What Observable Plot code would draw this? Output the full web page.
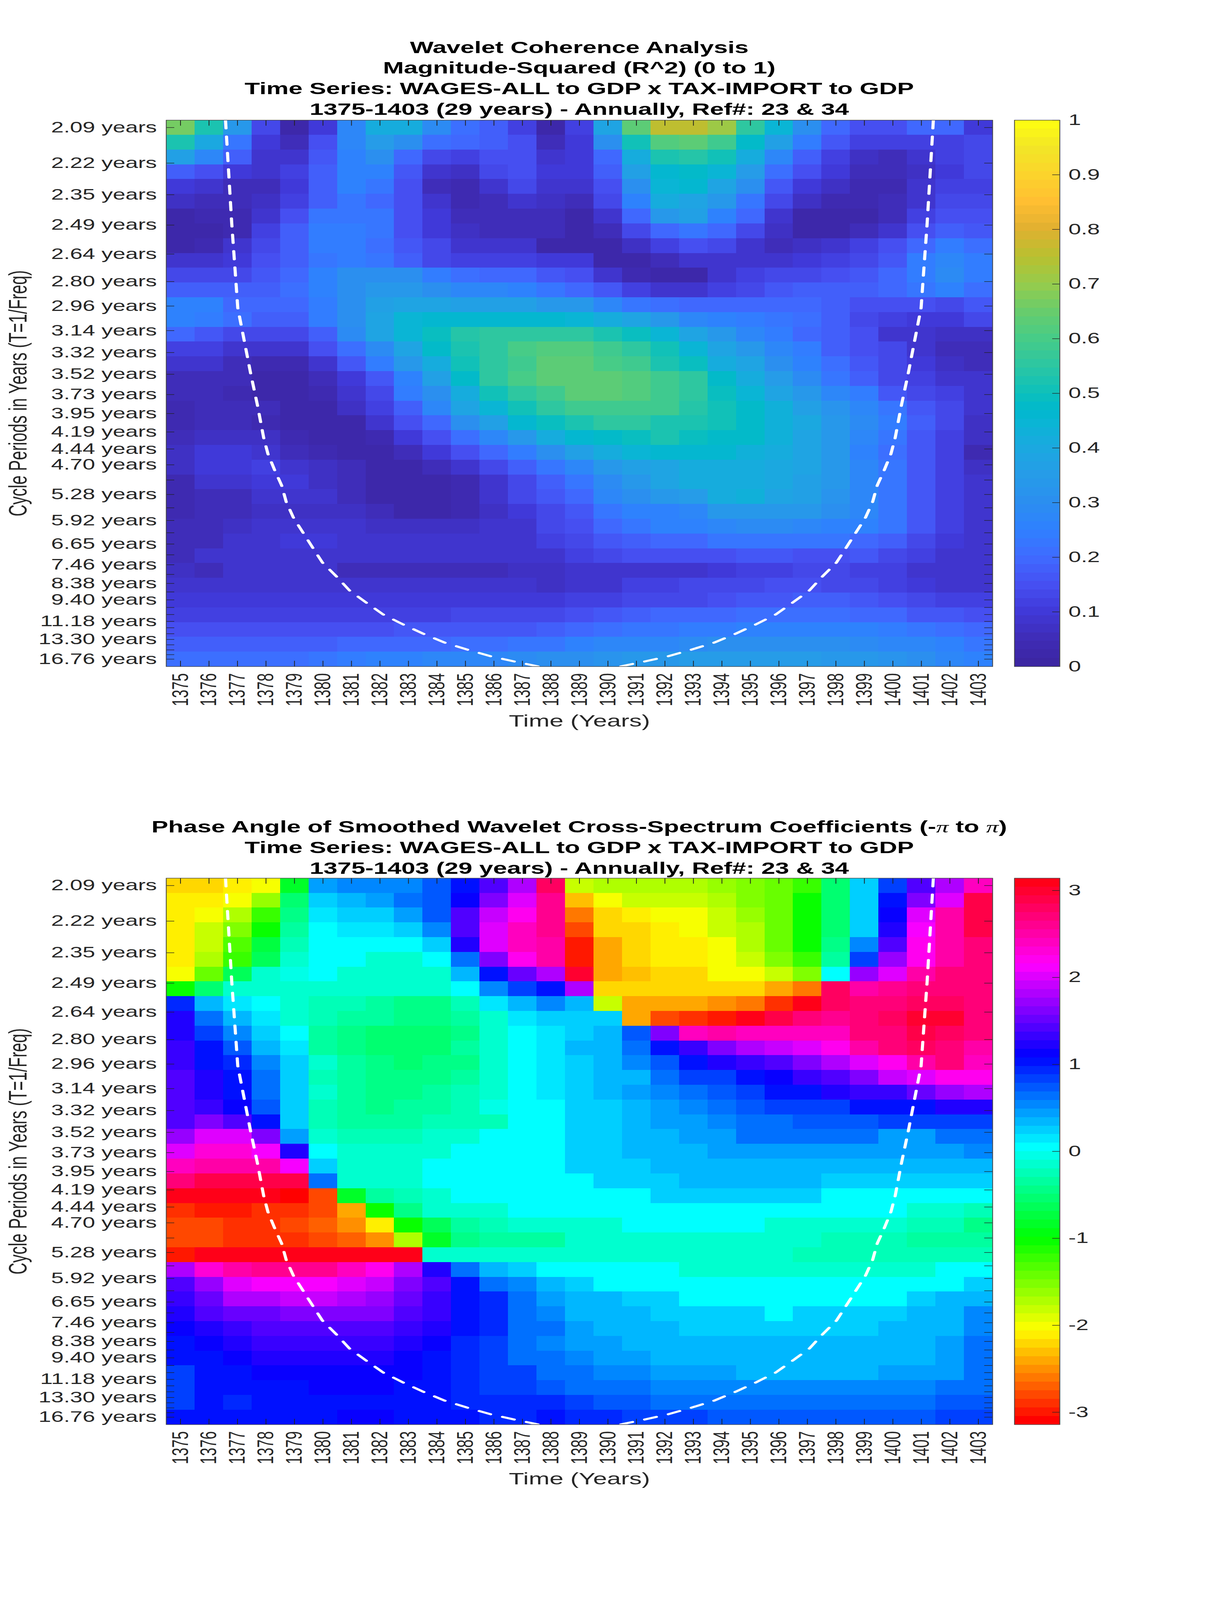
<!DOCTYPE html>
<html>
<head>
<meta charset="utf-8">
<title>Wavelet Coherence Analysis</title>
<script src="https://cdn.jsdelivr.net/npm/d3@7"></script>
<script src="https://cdn.jsdelivr.net/npm/@observablehq/plot@0.6"></script>
<style>
html,body{margin:0;padding:0;background:#fff;}
#page{position:absolute;left:0;top:0;width:3125px;height:6252px;overflow:hidden;background:#fff;font-family:"Liberation Sans",Arial,sans-serif;transform-origin:0 0;}
.ttl{position:absolute;left:0;width:2965px;text-align:center;font-weight:bold;font-size:64px;line-height:80.6px;color:#000;white-space:nowrap;}
.ttl i{font-family:"Liberation Serif",serif;font-weight:normal;}
</style>
</head>
<body>
<div id="page"></div>
<script>
const years = d3.range(1375, 1404);
const periods = [2.09,2.22,2.35,2.49,2.64,2.80,2.96,3.14,3.32,3.52,3.73,3.95,4.19,4.44,4.70,4.98,5.28,5.59,5.92,6.28,6.65,7.05,7.46,7.91,8.38,8.88,9.40,9.96,10.55,11.18,11.85,12.55,13.30,14.09,14.93,15.82,16.76];
const labelledPeriods = [2.09,2.22,2.35,2.49,2.64,2.80,2.96,3.14,3.32,3.52,3.73,3.95,4.19,4.44,4.70,5.28,5.92,6.65,7.46,8.38,9.40,11.18,13.30,16.76];

const coherence = [
[.67,.53,.33,.13,.03,.10,.27,.42,.42,.29,.21,.18,.11,.03,.11,.39,.64,.76,.76,.71,.56,.45,.30,.20,.15,.15,.20,.20,.10],
[.53,.40,.23,.10,.05,.15,.27,.35,.30,.21,.19,.18,.15,.05,.10,.30,.51,.62,.64,.58,.48,.36,.24,.16,.11,.11,.12,.12,.13],
[.37,.27,.18,.09,.08,.16,.26,.30,.20,.13,.11,.15,.15,.09,.10,.20,.41,.52,.54,.50,.41,.28,.18,.12,.07,.05,.08,.11,.14],
[.18,.15,.10,.09,.11,.18,.25,.25,.16,.09,.07,.13,.15,.10,.10,.18,.36,.46,.48,.44,.35,.21,.15,.10,.06,.06,.07,.10,.13],
[.10,.09,.06,.06,.10,.18,.25,.23,.15,.06,.04,.09,.14,.08,.09,.15,.31,.44,.46,.38,.31,.17,.10,.07,.04,.04,.08,.11,.11],
[.07,.05,.05,.07,.11,.18,.23,.20,.15,.09,.04,.05,.09,.07,.06,.13,.25,.41,.39,.34,.23,.13,.07,.04,.04,.05,.09,.13,.13],
[.02,.04,.04,.08,.15,.23,.23,.23,.15,.10,.05,.06,.06,.05,.02,.09,.20,.34,.36,.26,.20,.09,.03,.02,.02,.06,.11,.15,.15],
[.02,.02,.04,.11,.18,.24,.24,.23,.15,.10,.07,.05,.05,.05,.03,.06,.13,.20,.22,.20,.13,.07,.02,.02,.05,.09,.15,.18,.16],
[.02,.04,.08,.13,.18,.24,.24,.21,.16,.13,.09,.09,.09,.03,.03,.02,.07,.12,.15,.14,.09,.05,.07,.09,.11,.15,.20,.24,.21],
[.08,.08,.10,.15,.18,.23,.24,.22,.18,.14,.12,.11,.11,.10,.10,.03,.03,.05,.08,.09,.09,.09,.10,.11,.13,.16,.24,.28,.24],
[.13,.13,.14,.16,.20,.26,.31,.31,.31,.24,.21,.20,.20,.17,.15,.08,.04,.02,.03,.09,.11,.14,.14,.15,.17,.20,.24,.29,.24],
[.18,.18,.18,.18,.21,.26,.30,.33,.33,.30,.28,.27,.26,.23,.20,.17,.12,.09,.09,.11,.13,.17,.18,.18,.18,.19,.22,.26,.21],
[.25,.25,.20,.20,.20,.24,.30,.36,.39,.39,.36,.36,.36,.34,.33,.27,.23,.21,.19,.19,.20,.20,.20,.18,.15,.15,.15,.14,.16],
[.25,.24,.21,.18,.18,.24,.31,.38,.45,.46,.46,.46,.46,.46,.45,.41,.38,.33,.28,.26,.24,.23,.21,.18,.14,.12,.10,.10,.13],
[.19,.17,.14,.13,.14,.18,.29,.39,.45,.49,.54,.55,.55,.55,.55,.52,.49,.44,.38,.34,.27,.24,.20,.18,.15,.08,.08,.07,.07],
[.12,.12,.09,.08,.09,.15,.21,.29,.39,.47,.52,.56,.60,.61,.61,.58,.55,.50,.45,.39,.34,.27,.24,.18,.15,.13,.09,.05,.05],
[.09,.08,.05,.04,.04,.09,.16,.24,.34,.42,.50,.55,.59,.63,.63,.60,.58,.53,.49,.42,.39,.31,.25,.21,.16,.13,.10,.07,.05],
[.06,.05,.05,.03,.03,.05,.10,.16,.25,.36,.47,.55,.60,.63,.64,.64,.61,.59,.55,.48,.41,.35,.29,.23,.18,.14,.12,.09,.08],
[.05,.05,.04,.02,.02,.04,.09,.14,.24,.31,.42,.50,.55,.59,.64,.64,.61,.58,.55,.49,.45,.39,.33,.28,.24,.16,.14,.12,.08],
[.04,.05,.05,.05,.02,.03,.07,.11,.18,.28,.38,.45,.51,.56,.59,.59,.59,.58,.54,.51,.47,.43,.37,.32,.27,.23,.17,.14,.09],
[.04,.05,.05,.04,.02,.02,.02,.08,.15,.19,.31,.37,.46,.49,.53,.56,.56,.53,.53,.51,.47,.43,.40,.33,.29,.24,.18,.14,.07],
[.06,.07,.07,.07,.04,.02,.02,.04,.10,.15,.21,.27,.33,.42,.46,.48,.49,.52,.49,.48,.47,.43,.38,.33,.28,.23,.17,.12,.07],
[.07,.10,.10,.08,.06,.04,.02,.03,.06,.10,.15,.20,.24,.30,.36,.41,.45,.46,.46,.46,.43,.41,.38,.33,.26,.21,.16,.12,.04],
[.07,.10,.10,.11,.09,.07,.05,.03,.03,.06,.08,.14,.18,.22,.28,.33,.37,.39,.41,.41,.41,.40,.38,.33,.27,.22,.16,.11,.07],
[.04,.08,.09,.10,.10,.07,.06,.03,.02,.02,.04,.09,.14,.18,.23,.29,.33,.39,.41,.42,.42,.40,.37,.33,.28,.23,.17,.11,.08],
[.04,.05,.06,.08,.08,.08,.05,.03,.02,.02,.04,.09,.13,.16,.20,.27,.31,.34,.35,.41,.43,.39,.36,.32,.28,.23,.17,.11,.08],
[.04,.05,.06,.07,.07,.07,.07,.06,.03,.03,.04,.07,.10,.13,.17,.23,.26,.26,.28,.33,.34,.34,.34,.31,.28,.23,.17,.11,.08],
[.06,.05,.07,.08,.08,.08,.08,.07,.07,.07,.07,.08,.09,.14,.15,.20,.22,.25,.25,.28,.29,.29,.27,.26,.25,.22,.16,.11,.08],
[.06,.06,.08,.08,.10,.10,.08,.08,.08,.08,.08,.08,.09,.11,.13,.17,.18,.19,.20,.22,.22,.23,.23,.22,.20,.18,.14,.10,.08],
[.06,.08,.08,.08,.08,.08,.08,.08,.08,.08,.08,.08,.08,.08,.12,.13,.15,.15,.15,.15,.17,.17,.15,.15,.16,.13,.11,.09,.08],
[.07,.05,.08,.08,.08,.08,.06,.06,.06,.06,.06,.06,.07,.07,.09,.09,.08,.08,.09,.10,.11,.11,.13,.13,.12,.11,.09,.08,.08],
[.08,.08,.08,.08,.08,.08,.08,.08,.08,.08,.08,.08,.08,.07,.08,.09,.12,.12,.13,.14,.14,.15,.15,.14,.13,.11,.10,.08,.08],
[.10,.10,.10,.10,.10,.10,.10,.10,.10,.10,.10,.10,.10,.10,.11,.12,.13,.13,.14,.15,.16,.17,.18,.18,.17,.15,.13,.12,.11],
[.12,.12,.11,.11,.11,.11,.12,.12,.12,.12,.13,.13,.13,.13,.15,.16,.18,.19,.20,.20,.21,.21,.21,.21,.20,.19,.17,.16,.15],
[.15,.15,.15,.15,.15,.15,.15,.15,.16,.16,.17,.17,.17,.18,.20,.21,.22,.23,.24,.24,.25,.26,.26,.26,.25,.24,.23,.21,.20],
[.18,.18,.18,.18,.18,.18,.19,.19,.20,.20,.21,.21,.23,.23,.26,.27,.28,.28,.29,.30,.30,.30,.30,.30,.29,.28,.27,.25,.22],
[.21,.21,.21,.21,.21,.23,.24,.25,.26,.27,.27,.28,.29,.30,.31,.32,.33,.34,.35,.35,.35,.35,.35,.34,.33,.32,.30,.28,.26]
];

const phaseAngle = [
[-2.19,-2.19,-2.12,-1.97,-.88,.47,.55,.55,.55,.70,1.05,1.38,1.78,2.82,-1.85,-1.75,-1.73,-1.73,-1.73,-1.65,-1.50,-1.38,-1.25,-.50,.20,.85,1.38,1.78,2.36],
[-2.09,-2.09,-1.97,-1.65,-.50,.27,.36,.47,.60,.72,1.15,1.65,1.97,2.62,-2.28,-1.97,-1.83,-1.83,-1.83,-1.75,-1.57,-1.38,-1.05,-.50,.20,1.05,1.65,2.00,2.85],
[-2.09,-1.97,-1.75,-1.25,-.45,.12,.24,.24,.44,.72,1.38,1.88,2.16,2.62,-2.65,-2.16,-2.09,-1.97,-1.97,-1.85,-1.65,-1.45,-1.05,-.50,.20,1.15,1.97,2.55,2.88],
[-2.09,-1.85,-1.50,-1.05,-.33,0,.12,.12,.27,.55,1.38,2.00,2.40,2.62,-2.81,-2.25,-2.16,-2.09,-1.97,-1.85,-1.75,-1.45,-1.05,-.50,.20,1.25,2.09,2.55,2.88],
[-2.09,-1.85,-1.30,-.70,-.25,0,0,0,0,.20,1.19,2.00,2.36,2.55,-3.00,-2.38,-2.16,-2.09,-2.09,-1.97,-1.72,-1.45,-1.05,-.45,.50,1.38,2.16,2.55,2.74],
[-2.09,-1.75,-1.19,-.59,-.12,0,0,-.10,-.10,0,.68,1.65,2.16,2.48,-3.00,-2.38,-2.16,-2.09,-2.09,-1.97,-1.83,-1.57,-1.19,-.33,.85,1.71,2.20,2.55,2.68],
[-1.97,-1.38,-.65,-.19,-.07,0,-.10,-.10,-.10,-.10,.32,1.05,1.50,1.83,3.02,-2.38,-2.28,-2.16,-2.16,-2.05,-1.97,-1.85,-1.57,0,1.71,2.05,2.55,2.68,2.68],
[-1.05,-.50,-.19,-.12,-.12,-.12,-.12,-.19,-.19,-.19,0,.55,.85,1.05,1.78,-2.25,-2.25,-2.25,-2.25,-2.25,-2.25,-2.36,-2.65,2.82,2.55,2.62,2.68,2.68,2.68],
[.98,.30,.12,0,-.12,-.25,-.25,-.30,-.42,-.42,-.25,.12,.30,.50,.30,-1.85,-2.36,-2.44,-2.44,-2.55,-2.65,-2.92,3.05,2.82,2.68,2.68,2.82,2.82,2.68],
[1.19,.63,.32,.10,-.12,-.25,-.38,-.38,-.48,-.48,-.30,-.12,.12,.20,.20,.20,-2.44,-2.75,-2.92,-3.00,3.14,2.92,2.74,2.62,2.74,2.82,2.95,2.95,2.68],
[1.19,.85,.55,.24,0,-.30,-.48,-.52,-.52,-.52,-.42,-.19,0,.10,.20,.39,.70,1.65,2.40,2.55,2.44,2.44,2.44,2.44,2.68,2.74,2.88,2.82,2.68],
[1.28,1.05,.72,.39,.10,-.30,-.40,-.52,-.52,-.52,-.38,-.19,0,.10,.32,.39,.63,1.05,1.31,1.65,1.78,1.88,1.97,2.16,2.48,2.68,2.82,2.74,2.55],
[1.35,1.05,.95,.58,.24,-.19,-.38,-.42,-.52,-.42,-.40,-.10,0,.10,.20,.39,.55,.70,1.05,1.19,1.31,1.42,1.65,1.78,1.97,2.20,2.48,2.68,2.36],
[1.42,1.19,1.05,.63,.20,-.22,-.38,-.42,-.42,-.40,-.35,-.10,0,.10,.20,.30,.39,.60,.79,.88,1.05,1.15,1.28,1.45,1.65,1.88,2.03,2.16,2.16],
[1.42,1.25,1.05,.68,.20,-.19,-.30,-.42,-.42,-.33,-.25,-.10,0,.10,.20,.33,.44,.55,.65,.72,.88,1.00,1.05,1.19,1.28,1.35,1.57,1.71,1.78],
[1.42,1.31,1.15,.75,.20,-.22,-.38,-.45,-.38,-.33,-.25,-.07,0,.09,.20,.20,.30,.44,.55,.60,.72,.79,.88,.88,1.05,1.05,1.05,1.19,1.25],
[1.45,1.60,1.38,1.05,.24,-.25,-.35,-.38,-.38,-.25,-.20,-.20,0,.09,.20,.20,.33,.44,.44,.55,.63,.63,.72,.72,.72,.82,.82,.82,.88],
[1.75,1.97,1.97,1.65,.44,-.12,-.22,-.22,-.22,-.10,-.10,0,0,.09,.20,.20,.30,.30,.44,.44,.60,.60,.60,.65,.65,.47,.47,.60,.60],
[2.05,2.29,2.29,2.15,1.19,0,-.10,-.10,-.10,-.10,0,0,.09,.09,.20,.20,.33,.33,.33,.44,.44,.44,.44,.44,.44,.44,.44,.44,.50],
[2.40,2.55,2.55,2.55,2.15,.24,-.12,-.12,-.12,0,0,0,.09,.09,.20,.20,.20,.30,.30,.30,.30,.39,.39,.30,.30,.30,.30,.30,.30],
[2.74,2.88,2.88,2.88,2.88,.60,-.12,-.12,-.12,0,0,0,.09,.09,.09,.20,.24,.24,.33,.33,.33,.33,.33,.20,.20,.20,.20,.20,.20],
[3.08,3.08,3.08,3.14,-3.05,-2.81,-.79,-.33,-.22,-.10,0,0,0,.09,.09,.09,.09,.20,.20,.20,.20,.20,.20,.09,.09,.09,.09,0,0],
[-2.92,-3.00,-3.00,-2.92,-2.92,-2.75,-2.36,-1.05,-.45,-.19,-.12,-.10,0,0,0,0,.09,.09,.09,.09,.09,.09,0,0,0,0,-.12,-.12,-.25],
[-2.81,-2.81,-2.88,-2.88,-2.81,-2.70,-2.55,-2.09,-1.05,-.59,-.38,-.28,-.15,-.12,-.12,-.12,0,0,0,0,0,-.10,-.10,-.10,-.10,-.10,-.25,-.25,-.45],
[-2.75,-2.81,-2.88,-2.88,-2.88,-2.81,-2.70,-2.55,-1.70,-.79,-.45,-.38,-.30,-.30,-.15,-.12,-.12,-.12,-.12,-.12,-.12,-.12,-.12,-.25,-.25,-.25,-.35,-.35,-.35],
[-3.00,3.14,3.14,3.05,3.05,3.05,3.05,3.05,3.14,-.12,-.12,-.12,-.12,-.12,-.12,-.12,-.12,-.12,-.12,-.12,-.12,-.12,-.22,-.22,-.22,-.22,-.22,-.22,-.22],
[1.83,2.29,2.48,2.60,2.60,2.60,2.44,2.25,1.83,1.19,.63,.30,.20,.09,0,0,0,0,-.10,-.10,-.10,-.10,-.10,-.10,-.10,-.10,-.10,0,0],
[1.45,1.75,1.97,2.12,2.09,2.09,2.00,1.88,1.65,1.38,1.05,.68,.50,.33,.24,.09,.09,.09,0,0,0,0,0,0,0,0,.09,.09,.20],
[1.31,1.55,1.78,1.78,1.90,1.90,1.78,1.71,1.57,1.35,1.05,.92,.65,.47,.36,.30,.24,.24,.09,.09,.09,.09,.09,.09,.09,.09,.24,.33,.39],
[1.25,1.45,1.48,1.57,1.65,1.65,1.65,1.62,1.45,1.28,1.05,.92,.68,.58,.39,.39,.33,.24,.24,.24,.24,.09,.20,.20,.20,.20,.30,.39,.50],
[1.15,1.25,1.28,1.38,1.45,1.45,1.45,1.45,1.35,1.20,1.05,.92,.68,.60,.47,.39,.33,.30,.24,.24,.24,.24,.24,.24,.24,.30,.39,.39,.50],
[1.05,1.15,1.22,1.28,1.35,1.35,1.35,1.28,1.22,1.15,.95,.85,.68,.58,.47,.47,.36,.36,.30,.30,.30,.30,.30,.30,.30,.39,.39,.44,.60],
[1.00,1.05,1.10,1.19,1.22,1.22,1.22,1.22,1.15,1.05,.95,.85,.68,.65,.55,.44,.44,.39,.39,.39,.39,.33,.33,.39,.39,.39,.39,.44,.60],
[.80,1.00,1.05,1.10,1.10,1.10,1.10,1.10,1.10,1.05,.95,.85,.82,.68,.60,.55,.55,.47,.47,.47,.39,.39,.39,.39,.39,.44,.44,.44,.60],
[.80,1.00,1.05,1.05,1.05,1.10,1.10,1.10,1.05,1.05,.95,.88,.85,.78,.68,.65,.60,.55,.55,.55,.55,.55,.55,.55,.55,.55,.55,.60,.60],
[.80,1.00,.98,1.05,1.05,1.05,1.05,1.05,1.05,1.05,.97,.92,.90,.92,.79,.75,.75,.65,.65,.60,.60,.60,.60,.60,.60,.60,.60,.70,.70],
[1.00,1.00,1.05,1.05,1.05,1.05,1.10,1.10,1.05,1.05,1.00,.98,.95,1.05,.92,.90,.82,.82,.82,.72,.72,.72,.72,.72,.72,.72,.72,.80,.80]
];

// Cone of influence: [year, period]
const coiLeft = [[1376.58,2.065],[1376.80,2.486],[1376.93,2.764],[1377.01,2.973],[1377.24,3.224],[1377.46,3.509],[1377.70,3.849],[1377.92,4.274],[1378.07,4.519],[1378.30,4.789],[1378.55,5.089],[1378.71,5.447],[1378.96,5.838],[1379.31,6.289],[1379.64,6.78],[1379.98,7.364],[1380.47,8.006],[1380.93,8.787],[1381.52,9.597],[1382.11,10.537],[1382.81,11.49],[1383.51,12.53],[1384.25,13.72],[1385.05,14.86],[1385.88,16.13],[1386.72,17.30],[1387.57,18.57]];
const coiRight = [[1401.42,2.065],[1401.20,2.486],[1401.07,2.764],[1400.99,2.973],[1400.76,3.224],[1400.54,3.509],[1400.30,3.849],[1400.08,4.274],[1399.93,4.519],[1399.70,4.789],[1399.45,5.089],[1399.29,5.447],[1399.04,5.838],[1398.69,6.289],[1398.36,6.78],[1398.02,7.364],[1397.53,8.006],[1397.07,8.787],[1396.48,9.597],[1395.89,10.537],[1395.19,11.49],[1394.49,12.53],[1393.75,13.72],[1392.95,14.86],[1392.12,16.13],[1391.28,17.30],[1390.43,18.57]];

const coherenceTicks = [0,.1,.2,.3,.4,.5,.6,.7,.8,.9,1];
const phaseTicks = [-3,-2,-1,0,1,2,3];

const parulaStops = [0,.05,.1,.15,.2,.25,.3,.35,.4,.45,.47,.5,.55,.6,.65,.7,.75,.8,.85,.9,.95,1];
const parulaColors = ["#3b259f","#3f2cb6","#4038d8","#4650f2","#3f6aff","#2f80ff","#2b8ef0","#269ce8","#1ba8e0","#08b6d4","#00b8cc","#0cc0bc","#2cc6a2","#46cc88","#68cc6c","#96cc4c","#b8c030","#e0b030","#ffbe32","#fcd42c","#f2e626","#ffff10"];
const bands = 64;

const parulaScale = d3.scaleLinear().domain(parulaStops).range(parulaColors);
const parulaBands = d3.range(bands).map(i => parulaScale((i + .5) / bands));
const hsvBands = d3.range(bands).map(i => d3.hsl(i / bands * 360, 1, .5).formatHex());

const page = document.getElementById("page");
const freqTop = 1 / periods[0], freqBot = 1 / periods[periods.length - 1];
const rowH = (freqTop - freqBot) / (periods.length - 1);
const textColor = "#262626", frameColor = "#404040";

function panel(cfg) {
  const cells = [];
  cfg.matrix.forEach((row, r) => row.forEach((v, c) => cells.push({
    year: years[c], f: freqTop - r * rowH, v
  })));
  const mT = 20, H = 2135, W = 2115, mL = 425, mB = 290;
  const thresholds = d3.range(1, bands).map(i => cfg.min + (cfg.max - cfg.min) * i / bands);
  const color = {type: "threshold", domain: thresholds, range: cfg.colors};
  const main = Plot.plot({
    width: mL + W + 10, height: mT + H + mB,
    marginLeft: mL, marginRight: 10, marginTop: mT, marginBottom: mB,
    x: {domain: [1374.5, 1403.5], axis: null},
    y: {domain: [freqBot - rowH / 2, freqTop + rowH / 2], axis: null},
    color,
    style: {position: "absolute", left: "0px", top: (cfg.top - mT) + "px", background: "transparent", fontFamily: '"Liberation Sans",Arial,sans-serif', overflow: "visible"},
    marks: [
      Plot.rect(cells, {x1: d => d.year - .5, x2: d => d.year + .5, y1: d => d.f - rowH / 2, y2: d => d.f + rowH / 2, fill: "v", shapeRendering: "crispEdges"}),
      Plot.line(cfg.coiL, {x: d => d[0], y: d => 1 / d[1], stroke: "#fff", strokeWidth: 8, strokeDasharray: "32,32", clip: true, curve: "linear"}),
      Plot.line(cfg.coiR, {x: d => d[0], y: d => 1 / d[1], stroke: "#fff", strokeWidth: 8, strokeDasharray: "32,32", clip: true, curve: "linear"}),
      Plot.ruleX(years, {stroke: "#222", strokeWidth: 2, insetTop: H - 22}),
      Plot.ruleX(years, {stroke: "#222", strokeWidth: 2, insetBottom: H - 22}),
      Plot.ruleY(periods.map(p => 1 / p), {stroke: "#222", strokeWidth: 2, insetRight: W - 21}),
      Plot.ruleY(periods.map(p => 1 / p), {stroke: "#222", strokeWidth: 2, insetLeft: W - 21}),
      Plot.frame({stroke: frameColor, strokeWidth: 2}),
      Plot.axisX({ticks: years, tickFormat: d => String(d), tickSize: 0, tickPadding: 26, tickRotate: -90, fontSize: 58, color: textColor, label: null}),
      Plot.axisY({ticks: labelledPeriods.map(p => 1 / p), tickFormat: f => (1 / f).toFixed(2) + " years", tickSize: 0, tickPadding: 24, fontSize: 58, color: textColor, label: null}),
      Plot.text(["Time (Years)"], {frameAnchor: "bottom", dy: 234, fontSize: 64, fill: textColor}),
      Plot.text(["Cycle Periods in Years (T=1/Freq)"], {frameAnchor: "left", rotate: -90, dx: -378, textAnchor: "middle", fontSize: 64, fill: textColor})
    ]
  });
  page.appendChild(main);

  const step = (cfg.max - cfg.min) / bands;
  const bandData = d3.range(bands).map(i => ({lo: cfg.min + i * step, hi: cfg.min + (i + 1) * step, v: cfg.min + (i + .5) * step}));
  const bar = Plot.plot({
    width: 116 + 200, height: mT + H + mT,
    marginLeft: 0, marginRight: 200, marginTop: mT, marginBottom: mT,
    x: {domain: [0, 1], axis: null},
    y: {domain: [cfg.min, cfg.max], axis: null},
    color,
    style: {position: "absolute", left: "2596px", top: (cfg.top - mT) + "px", background: "transparent", fontFamily: '"Liberation Sans",Arial,sans-serif', overflow: "visible"},
    marks: [
      Plot.rect(bandData, {x1: 0, x2: 1, y1: "lo", y2: "hi", fill: "v", shapeRendering: "crispEdges"}),
      Plot.ruleY(cfg.ticks, {stroke: "#222", strokeWidth: 2, insetLeft: 116 - 19}),
      Plot.frame({stroke: frameColor, strokeWidth: 2}),
      Plot.axisY({anchor: "right", ticks: cfg.ticks, tickFormat: d => String(d), tickSize: 0, tickPadding: 22, fontSize: 58, color: textColor, label: null})
    ]
  });
  page.appendChild(bar);
}

function title(top, html) {
  const d = document.createElement("div");
  d.className = "ttl";
  d.style.top = top + "px";
  d.innerHTML = html;
  page.appendChild(d);
}

title(144.5, "Wavelet Coherence Analysis<br>Magnitude-Squared (R^2) (0 to 1)<br>Time Series: WAGES-ALL to GDP x TAX-IMPORT to GDP<br>1375-1403 (29 years) - Annually, Ref#: 23 &amp; 34");
title(3189.5, "Phase Angle of Smoothed Wavelet Cross-Spectrum Coefficients (-<i>π</i> to <i>π</i>)<br>Time Series: WAGES-ALL to GDP x TAX-IMPORT to GDP<br>1375-1403 (29 years) - Annually, Ref#: 23 &amp; 34");

panel({top: 468.5, matrix: coherence, min: 0, max: 1, colors: parulaBands, ticks: coherenceTicks, coiL: coiLeft, coiR: coiRight});
panel({top: 3431, matrix: phaseAngle, min: -Math.PI, max: Math.PI, colors: hsvBands, ticks: phaseTicks, coiL: coiLeft, coiR: coiRight});

// The layout is 6252px tall. If the window is shorter, fit the height to it so that no part of the chart is lost.
const fit = Math.min(1, window.innerHeight / 6252);
if (fit < 1) {
  page.style.transform = `scaleY(${fit})`;
  document.documentElement.style.height = window.innerHeight + "px";
  document.documentElement.style.overflow = "hidden";
  document.body.style.height = window.innerHeight + "px";
}
</script>
</body>
</html>
